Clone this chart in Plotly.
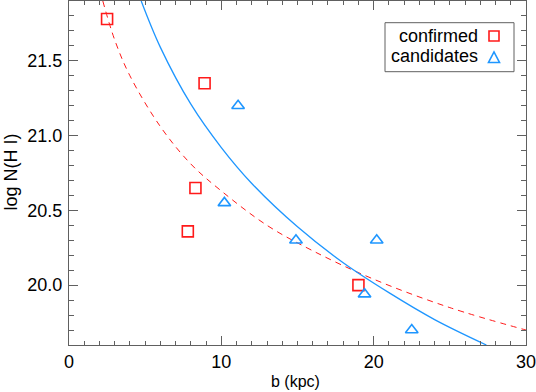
import plotly.graph_objects as go

# confirmed (red squares)
conf_b = [2.5, 8.9, 8.3, 7.8, 19.0]
conf_n = [21.78, 21.35, 20.65, 20.36, 20.00]

# candidates (blue triangles)
cand_b = [11.1, 10.2, 14.9, 20.2, 19.4, 22.5]
cand_n = [21.20, 20.55, 20.30, 20.30, 19.94, 19.70]

# solid blue curve
blue_b = [4.74, 6, 8, 10, 12, 15, 18, 21, 24, 27.4]
blue_n = [21.90, 21.59, 21.21, 20.92, 20.68, 20.39, 20.15, 19.95, 19.77, 19.60]

# dashed red curve
red_b = [2.22, 3, 4, 6, 8, 10, 13, 16, 20, 25, 30]
red_n = [21.90, 21.64, 21.40, 21.06, 20.81, 20.63, 20.40, 20.23, 20.04, 19.85, 19.70]

RED = "#ff1a1a"
BLUE = "#1e96ff"
AXC = "#606060"
FONT = "Liberation Sans, Arial, Helvetica, sans-serif"

W, H = 536, 392
L, R, T, B = 69, 10, 1, 47
pw, ph = W - L - R, H - T - B


def px(x):
    return (x - L) / pw


def py(y):
    return (H - B - y) / ph


fig = go.Figure()

fig.add_trace(go.Scatter(x=red_b, y=red_n, mode="lines", line=dict(color=RED, width=1, dash="6px,5px", shape="spline"),
                         showlegend=False, hoverinfo="skip"))
fig.add_trace(go.Scatter(x=blue_b, y=blue_n, mode="lines", line=dict(color=BLUE, width=1.3, shape="spline"),
                         showlegend=False, hoverinfo="skip"))
fig.add_trace(go.Scatter(x=conf_b, y=conf_n, mode="markers", name="confirmed",
                         marker=dict(symbol="square-open", size=11, color=RED, line=dict(width=1.6, color=RED)),
                         showlegend=False))
fig.add_trace(go.Scatter(x=cand_b, y=cand_n, mode="markers", name="candidates",
                         marker=dict(symbol="triangle-up-open", size=11, color=BLUE, line=dict(width=1.6, color=BLUE)),
                         showlegend=False))

axis_common = dict(
    showline=True, linecolor=AXC, linewidth=1, mirror="allticks", automargin=False,
    ticks="inside", tickcolor=AXC, tickwidth=1, showgrid=False, zeroline=False,
    ticklabeloverflow="allow",
    tickfont=dict(family=FONT, size=18, color="black"),
)

fig.update_xaxes(range=[0, 30], dtick=10, ticklen=9, ticklabelstandoff=0,
                 minor=dict(dtick=1, ticks="inside", ticklen=4, tickcolor=AXC, showgrid=False),
                 **axis_common)
fig.update_yaxes(range=[19.6, 21.9], dtick=0.5, tickformat=".1f", ticklen=9, ticklabelstandoff=2,
                 minor=dict(dtick=0.1, ticks="inside", ticklen=5, tickcolor=AXC, showgrid=False),
                 **axis_common)

# legend drawn by hand: text on the left, symbol on the right
shapes = [
    dict(type="rect", xref="paper", yref="paper", x0=px(385), x1=px(514), y0=py(71.7), y1=py(22.7),
         line=dict(color=AXC, width=1), fillcolor="white", layer="above"),
    dict(type="rect", xref="paper", yref="paper", x0=px(489), x1=px(499), y0=py(41), y1=py(31),
         line=dict(color=RED, width=1.6), layer="above"),
    dict(type="path", xref="paper", yref="paper",
         path=f"M {px(488.5)} {py(62.5)} L {px(499.5)} {py(62.5)} L {px(494)} {py(52)} Z",
         line=dict(color=BLUE, width=1.6), layer="above"),
]

annotations = [
    dict(text="confirmed", xref="paper", yref="paper", x=px(480), y=py(36), xanchor="right", yanchor="middle",
         showarrow=False, font=dict(family=FONT, size=18, color="black")),
    dict(text="candidates", xref="paper", yref="paper", x=px(480), y=py(56.5), xanchor="right", yanchor="middle",
         showarrow=False, font=dict(family=FONT, size=18, color="black")),
    dict(text="b (kpc)", xref="paper", yref="paper", x=px(295), y=py(381), xanchor="center", yanchor="middle",
         showarrow=False, font=dict(family=FONT, size=16, color="black")),
    dict(text="log N(H I)", xref="paper", yref="paper", x=px(10), y=py(172.5), xanchor="center", yanchor="middle",
         textangle=-90, showarrow=False, font=dict(family=FONT, size=18, color="black")),
]

fig.update_layout(
    width=W, height=H,
    margin=dict(l=L, r=R, t=T, b=B, autoexpand=False),
    paper_bgcolor="white", plot_bgcolor="white",
    shapes=shapes, annotations=annotations,
    showlegend=False,
)

# the page's default body margin would push the figure 8px down and right
fig.write_html("out.html", config={"displayModeBar": False},
               post_script="document.body.style.margin='0';")
